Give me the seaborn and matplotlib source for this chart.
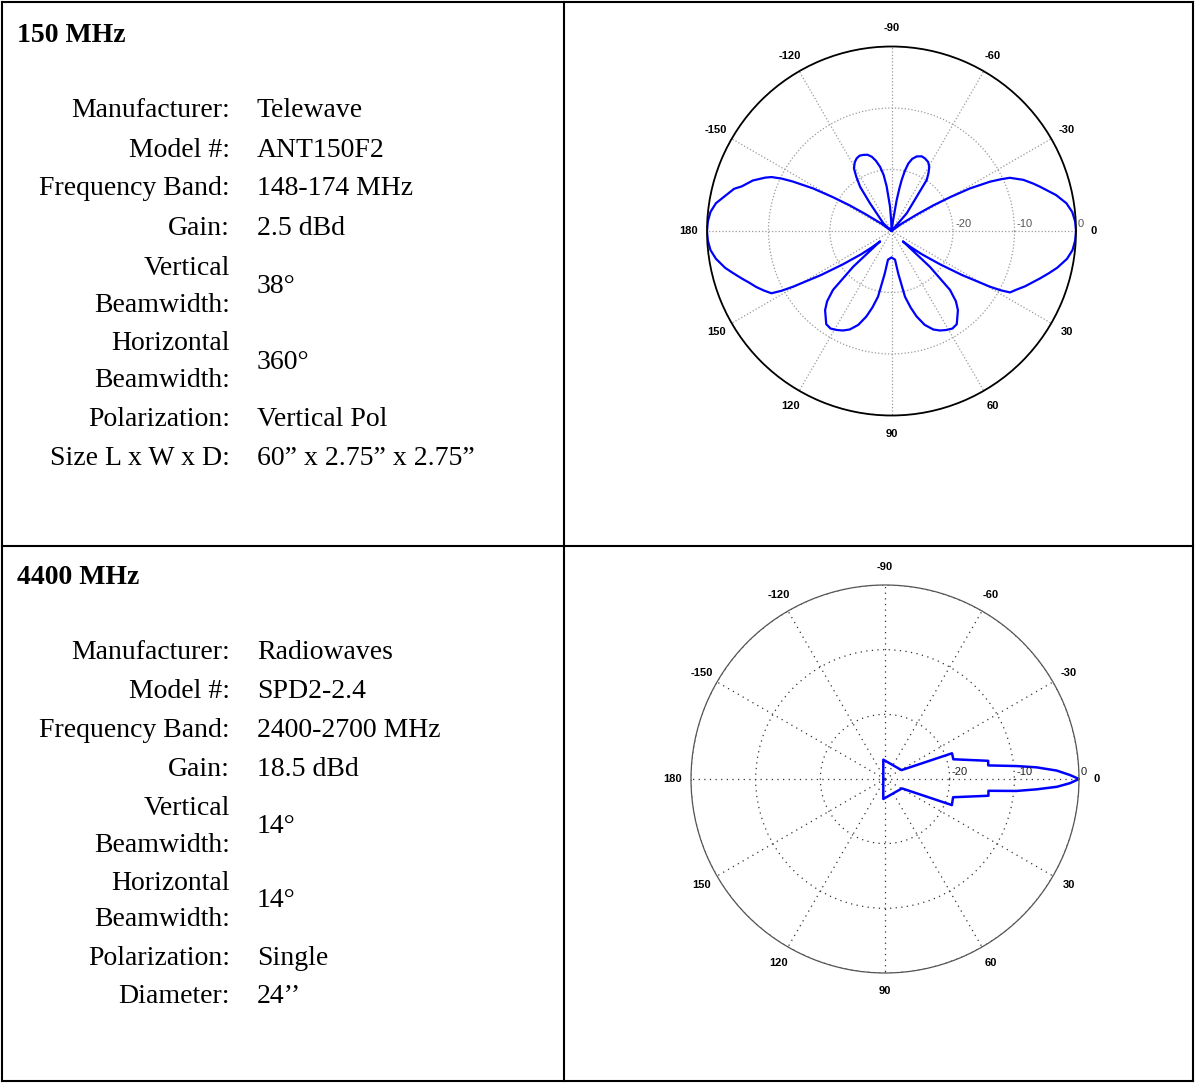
import numpy as np
import pandas as pd
import matplotlib
matplotlib.use('Agg')
import matplotlib.pyplot as plt
import seaborn as sns

# ---- table text ----
title_150 = '150 MHz'
labels_150 = ['Manufacturer:', 'Model #:', 'Frequency Band:', 'Gain:', 'Vertical', 'Beamwidth:',
              'Horizontal', 'Beamwidth:', 'Polarization:', 'Size L x W x D:']
values_150 = ['Telewave', 'ANT150F2', '148-174 MHz', '2.5 dBd', '38°', '360°',
              'Vertical Pol', '60\u201d x 2.75\u201d x 2.75\u201d']

title_4400 = '4400 MHz'
labels_4400 = ['Manufacturer:', 'Model #:', 'Frequency Band:', 'Gain:', 'Vertical', 'Beamwidth:',
               'Horizontal', 'Beamwidth:', 'Polarization:', 'Diameter:']
values_4400 = ['Radiowaves', 'SPD2-2.4', '2400-2700 MHz', '18.5 dBd', '14°', '14°',
               'Single', '24\u2019\u2019']

# ---- polar axis labels ----
angle_ticks = [0, 30, 60, 90, 120, 150, 180, 210, 240, 270, 300, 330]
angle_labels = ['0', '30', '60', '90', '120', '150', '180', '-150', '-120', '-90', '-60', '-30']
ring_values = [-20, -10, 0]

# ---- 150 MHz elevation pattern (deg, dB) ----
theta_150 = [0, 3, 6, 9, 12.5, 15, 17.7, 20, 22.5, 25, 27.4, 28.5, 29.5, 32, 34.5, 37.5, 40, 42.3,
             43, 45.2, 47.5, 50, 55, 58, 61, 64, 67, 70.5, 73.6, 76, 78.4, 81, 83, 90,
             97, 99, 101.6, 104, 106.4, 109.5, 113, 116, 119, 122, 125, 130, 132.5, 134.8, 137,
             137.7, 140, 142.5, 145.5, 148, 150.5, 151.5, 152.6, 155, 157.5, 160, 162.3, 165,
             167.5, 171, 174, 177, 180,
             -177, -174, -171, -167.7, -165, -163.4, -160, -157.1, -155.8, -154.5, -153.4,
             -151.5, -150, -148.5, -147, -144, -140, -138, -136.8, -127.8, -125.4, -123,
             -120.9, -118, -115.6, -113, -110.4, -107.5, -104.9, -102.5, -100.1, -98, -96.2,
             -93.5, -91.5, -90,
             -84, -81.5, -80.5, -79.5, -78.7, -77.5, -76, -74, -71.3, -68, -65.3, -62, -59.5,
             -57.5, -55.4, -53.7, -49.3, -46, -40, -36, -33, -31.5, -30, -28.5, -26.6, -25.3,
             -24.2, -21.2, -18.5, -16.6, -12.3, -9, -6, -3, 0]
gain_150 = [0, -0.1, -0.4, -1.1, -2.4, -3.5, -4.65, -5.6, -6.5, -7.5, -8.3, -9.8, -11.6, -16.5,
            -20.5, -23.8, -26, -27.5,
            -21.5, -16.5, -14.5, -13.2, -11.5, -11.3, -11.6, -12, -12.6, -13.8, -15.5, -17.2,
            -19.1, -23, -25.3, -25.7,
            -25.3, -23, -19.1, -17.2, -15.5, -13.8, -12.6, -12, -11.6, -11.3, -11.5, -13.2,
            -14.5, -16.5, -21.5,
            -27.5, -26, -23.8, -20.5, -16.5, -11.6, -9.6, -8.0, -7.1, -6.2, -5.4, -4.5, -3.4,
            -2.3, -1.1, -0.4, -0.1, 0,
            -0.1, -0.4, -1.1, -2.5, -3.5, -4.6, -6.0, -7.7, -8.6, -10.2, -12,
            -15.5, -19, -22, -25, -28, -30, -30, -28.2, -24.3, -21.2, -19.5,
            -18.1, -17.3, -16.9, -16.7, -16.8, -17.0, -17.5, -18.3, -19.4, -20.8, -22.7,
            -26, -28.5, -30,
            -30, -28.2, -24.9, -23, -21.5, -20, -18.7, -17.8, -17.2, -16.9, -17.0, -17.3, -17.9,
            -18.8, -19.9, -23.1, -26.2, -30, -30, -28, -25, -22, -19, -15.5, -12.1, -10.3,
            -8.9, -7.0, -5.7, -4.8, -2.6, -1.2, -0.45, -0.1, 0]

# ---- 4400 MHz pattern (deg, dB) ----
theta_4400 = [0, -1.24, -2.8, -4.4, -5.6, -7.5, -10, -16.1, -21, -28.3, -95, 94.9, 29, 21.3, 15,
              9.2, 6.5, 5.2, 3.9, 2.6, 1.3, 0]
gain_4400 = [0, -1.4, -3.4, -6.5, -9.5, -13.9, -13.8, -19.0, -18.9, -27.1, -27.0, -26.9, -27.0,
             -18.9, -19.1, -13.8, -13.9, -9.6, -6.5, -3.4, -1.4, 0]

W, H = 1195, 1089
sns.set_style('white')
plt.rcParams.update({'text.color': 'black', 'axes.labelcolor': 'black',
                     'xtick.color': 'black', 'ytick.color': 'black'})
fig = plt.figure(figsize=(W / 100, H / 100), dpi=100)

# background axes in pixel coordinates for the table
bg = fig.add_axes([0, 0, 1, 1])
bg.set_xlim(0, W)
bg.set_ylim(H, 0)
bg.axis('off')

lw_table = 1.5
for y in [2, 546, 1081]:
    bg.plot([2, 1193], [y, y], color='black', lw=lw_table, solid_capstyle='projecting')
for x in [2, 564, 1193]:
    bg.plot([x, x], [2, 1081], color='black', lw=lw_table, solid_capstyle='projecting')

serif = ['Liberation Serif', 'DejaVu Serif']
fs = 20


def draw_cell(title, title_y, labels, label_ys, values, value_ys):
    bg.text(17, title_y, title, fontsize=fs, fontweight='bold', family=serif, va='baseline',
            color='black')
    for txt, y in zip(labels, label_ys):
        bg.text(230, y, txt, fontsize=fs, family=serif, ha='right', va='baseline', color='black')
    for txt, y in zip(values, value_ys):
        bg.text(257, y, txt, fontsize=fs, family=serif, ha='left', va='baseline', color='black')


draw_cell(title_150, 42, labels_150,
          [116.7, 156.7, 195, 235, 275, 311.7, 350, 386.7, 425.7, 465],
          values_150, [116.7, 156.7, 195, 235, 293, 369.3, 425.7, 465])
draw_cell(title_4400, 584, labels_4400,
          [659.3, 698.3, 736.7, 776, 815, 851.7, 890, 926, 965, 1003.3],
          values_4400, [659.3, 698.3, 736.7, 776, 833.3, 906.7, 965, 1003.3])


def polar_panel(cx, cy, rad, theta, gain, grid_color, grid_ls, spine_color, spine_lw,
                ring_label_color, line_w):
    rect = [(cx - rad) / W, (H - cy - rad) / H, 2 * rad / W, 2 * rad / H]
    ax = fig.add_axes(rect, projection='polar')
    df = pd.DataFrame({'theta': np.deg2rad(theta), 'gain': gain})
    sns.lineplot(data=df, x='theta', y='gain', sort=False, estimator=None, ax=ax,
                 color='#0000ff', linewidth=line_w)
    ax.set_theta_zero_location('E')
    ax.set_theta_direction(-1)
    ax.set_rlim(-30, 0)
    ax.set_rgrids(ring_values, labels=[''] * len(ring_values))
    ax.set_thetagrids(angle_ticks, angle_labels, family=['Liberation Sans', 'DejaVu Sans'],
                      fontsize=8, fontweight='bold', color='black')
    ax.tick_params(axis='x', pad=2.5)
    ax.grid(True, color=grid_color, linestyle=grid_ls, linewidth=0.9)
    ax.spines['polar'].set_color(spine_color)
    ax.spines['polar'].set_linewidth(spine_lw)
    ax.set_xlabel('')
    ax.set_ylabel('')
    for rv in ring_values:
        ax.annotate(str(rv), xy=(0, rv), xytext=(2, 7), textcoords='offset pixels',
                    ha='left', va='center', fontsize=8, color=ring_label_color,
                    family=['Liberation Sans', 'DejaVu Sans'])
    return ax


polar_panel(891.5, 231, 184.5, theta_150, gain_150, '#9a9a9a', ':', 'black', 1.3, '#555555', 1.6)
polar_panel(885, 779, 194, theta_4400, gain_4400, '#333333', (0, (1, 3.5)), '#555555', 0.9,
            '#222222', 1.8)

fig.savefig('out.png', dpi=100)
